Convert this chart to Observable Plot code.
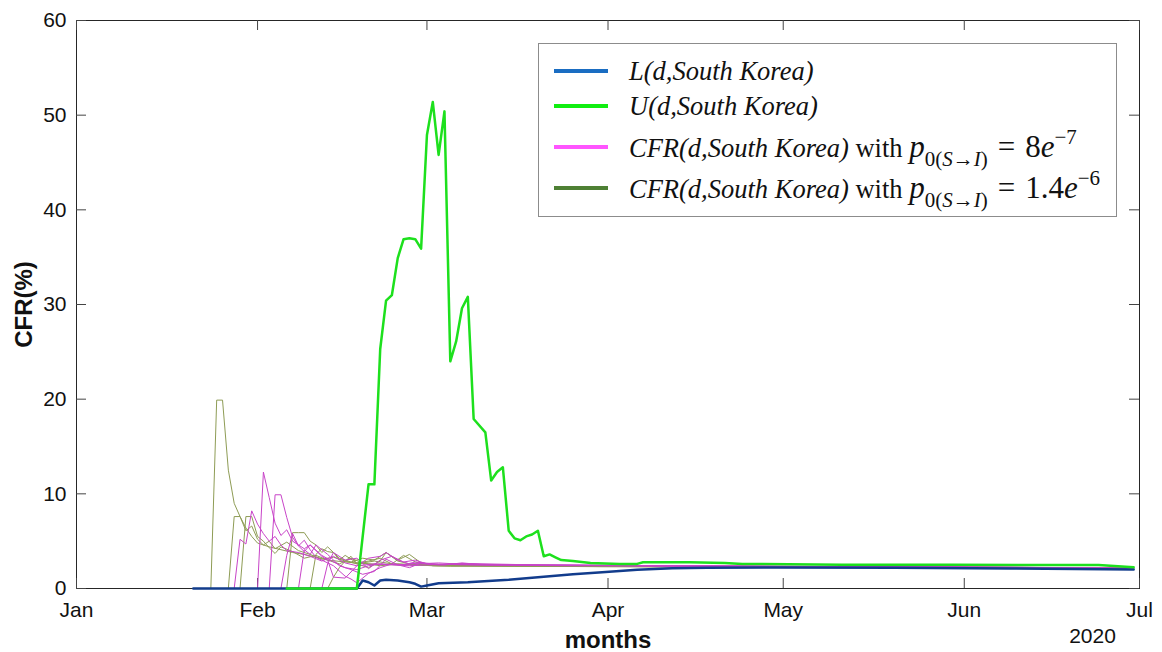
<!DOCTYPE html>
<html><head><meta charset="utf-8">
<script src="https://cdn.jsdelivr.net/npm/d3@7"></script>
<script src="https://cdn.jsdelivr.net/npm/@observablehq/plot@0.6"></script>
<style>
body{margin:0;background:#fff;}
#wrap{position:relative;width:1162px;height:652px;}
#legend{position:absolute;left:538px;top:43px;width:577px;height:172px;border:1px solid #8c8c8c;background:#fff;font-family:"Liberation Serif","Times New Roman",serif;font-size:26.5px;color:#111;}
.sw{position:absolute;left:15px;width:54px;height:4px;}
.lab{position:absolute;left:90px;height:34px;line-height:34px;white-space:nowrap;}
.m{font-size:31px;}
.m sub{font-size:21px;vertical-align:-9px;line-height:0;}
.m sup{font-size:21px;vertical-align:13px;line-height:0;}
.eq{margin:0 10px;}
</style>
</head><body>
<div id="wrap">
<div id="chart"></div>
<div id="legend">
  <div class="sw" style="top:25px;background:#1a6dc2"></div>
  <div class="lab" style="top:10px"><i>L(d,South Korea)</i></div>
  <div class="sw" style="top:60px;background:#11ee11"></div>
  <div class="lab" style="top:45px"><i>U(d,South Korea)</i></div>
  <div class="sw" style="top:101px;background:#ff55ff"></div>
  <div class="lab" style="top:86px"><i>CFR(d,South Korea)</i> with <span class="m"><i>p</i><sub>0(<i>S</i>→<i>I</i>)</sub><span class="eq">=</span>8<i>e</i><sup>−7</sup></span></div>
  <div class="sw" style="top:142px;background:#4e8034"></div>
  <div class="lab" style="top:127px"><i>CFR(d,South Korea)</i> with <span class="m"><i>p</i><sub>0(<i>S</i>→<i>I</i>)</sub><span class="eq">=</span>1.4<i>e</i><sup>−6</sup></span></div>
</div>
</div>
<script>
// day index counted from 2020-01-01 (day 0)
const monthTickLabels = ["Jan","Feb","Mar","Apr","May","Jun","Jul"];
const monthTickDays = [0,31,60,91,121,152,182];
const yTicks = [0,10,20,30,40,50,60];

const lowerDays = [20,48,49,50,51,52,53,55,57,58,59,60,62,67,74,79,85,90,96,102,108,120,140,160,181];
const lowerVals = [0,0,0.84,0.66,0.32,0.84,0.92,0.84,0.66,0.5,0.2,0.32,0.55,0.66,0.92,1.19,1.5,1.72,1.97,2.14,2.18,2.22,2.2,2.12,2.0];

const upperDays = [36,48,50,51,52,53,54,55,56,57,58,59,60,61,62,63,64,65,66,67,68,70,71,72,73,74,75,76,77,78,79,80,81,82,83,85,88,93,96,97,105,111,114,131,150,175,181];
const upperVals = [0,0,11,11,25.3,30.4,31.0,34.9,36.9,37.0,36.9,35.9,47.9,51.4,45.8,50.4,24.0,26.1,29.6,30.8,17.9,16.5,11.4,12.3,12.8,6.1,5.3,5.1,5.5,5.7,6.1,3.4,3.6,3.3,3.0,2.9,2.7,2.6,2.6,2.78,2.78,2.7,2.6,2.5,2.5,2.48,2.25];

// CFR runs with p0 = 8e-7 (magenta)
const pinkA_days = [27,28,29,30,31,32,33,34,35,36,38,40,42,44,46,48,51,54,57,60,66,80,100,130,160,181];
const pinkA_vals = [0,5.2,4.7,8.2,6.8,5.8,5.0,5.5,4.6,4.0,3.8,3.4,2.9,3.4,2.7,2.4,2.6,2.5,2.4,2.5,2.55,2.45,2.4,2.3,2.25,2.1];
const pinkB_days = [31,32,33,34,35,36,37,38,39,40,42,44,46,48,50,52,55,58,62,68,90,120,150,181];
const pinkB_vals = [0,12.3,9.6,6.9,5.6,6.2,5.0,4.6,4.2,4.6,3.5,2.8,2.2,2.0,2.4,2.6,2.5,2.6,2.7,2.5,2.45,2.35,2.3,2.15];
const pinkC_days = [33,34,35,36,37,38,39,40,41,42,44,46,47,48,50,52,54,56,58,61,66,85,115,145,181];
const pinkC_vals = [0,9.9,9.9,7.5,5.4,4.5,5.1,4.1,3.3,3.0,2.4,1.3,1.0,0.6,1.6,2.2,2.6,2.5,2.8,2.6,2.5,2.4,2.35,2.3,2.15];
const pinkD_days = [35,36,37,38,39,40,42,43,44,46,48,50,52,53,55,57,59,62,64,75,105,135,181];
const pinkD_vals = [0,3.5,5.8,4.5,3.9,4.6,3.4,3.0,1.2,1.1,2.4,3.2,3.4,3.8,3.0,2.6,2.7,2.5,2.6,2.5,2.35,2.3,2.1];
const pinkE_days = [38,39,40,41,43,45,47,49,51,53,55,57,59,61,63,66,78,110,150,181];
const pinkE_vals = [0,4.1,3.6,4.6,3.6,2.4,2.0,1.5,1.8,3.1,2.5,2.2,2.7,2.55,2.5,2.65,2.5,2.35,2.25,2.1];
const pinkF_days = [42,43,44,46,48,50,52,54,56,58,60,63,66,70,90,120,181];
const pinkF_vals = [0,2.6,3.8,3.0,3.2,2.1,3.0,3.4,2.8,3.0,2.6,2.5,2.7,2.5,2.45,2.35,2.1];

// CFR runs with p0 = 1.4e-6 (olive)
const oliveA_days = [23,24,25,26,27,28,29,30,31,33,35,37,39,41,43,46,50,55,60,70,90,120,150,181];
const oliveA_vals = [0,19.9,19.9,12.5,9.0,7.6,6.4,5.5,4.8,4.4,4.1,3.8,3.6,3.3,3.0,2.8,2.6,2.5,2.45,2.4,2.35,2.3,2.25,2.15];
const oliveB_days = [26,27,28,29,30,31,32,33,34,36,38,40,42,44,46,48,51,54,58,62,75,100,130,160,181];
const oliveB_vals = [0,7.6,7.6,6.1,6.6,5.2,4.6,5.0,4.2,4.9,4.0,3.6,3.1,3.3,2.9,2.6,2.9,2.6,2.5,2.4,2.35,2.3,2.25,2.2,2.1];
const oliveC_days = [28,29,30,31,32,33,34,35,37,39,41,43,45,47,49,52,55,58,61,70,95,125,155,181];
const oliveC_vals = [0,7.6,7.6,5.5,5.0,4.3,3.7,4.4,3.9,3.2,3.5,3.0,2.6,3.2,2.7,2.4,2.6,2.5,2.4,2.45,2.4,2.3,2.25,2.15];
const oliveD_days = [36,37,38,39,40,41,42,43,44,45,47,49,51,53,55,57,60,65,80,110,140,181];
const oliveD_vals = [0,5.9,5.9,5.9,5.0,4.6,3.8,4.4,3.8,3.2,2.8,3.2,3.0,3.8,2.9,2.6,2.5,2.4,2.35,2.3,2.25,2.15];
const oliveE_days = [40,41,42,43,44,45,46,48,50,52,54,56,58,60,63,70,90,120,181];
const oliveE_vals = [0,3.6,4.2,3.9,3.8,3.0,3.5,2.7,2.9,3.2,2.6,3.5,2.8,2.5,2.45,2.4,2.3,2.3,2.15];
const oliveF_days = [43,44,45,46,47,48,50,52,53,55,57,59,61,64,72,100,140,181];
const oliveF_vals = [0,1.2,2.2,2.9,3.4,2.6,2.2,2.9,3.8,3.0,3.6,2.7,2.4,2.35,2.4,2.3,2.25,2.1];

const toDate = d => new Date(Date.UTC(2020, 0, 1 + d));
function rows(days, vals, key) { return days.map((d, i) => ({date: toDate(d), v: vals[i], key})); }

const lowerRows = rows(lowerDays, lowerVals, "L");
const upperRows = rows(upperDays, upperVals, "U");
const pinkRows = [
  rows(pinkA_days, pinkA_vals, "pA"), rows(pinkB_days, pinkB_vals, "pB"), rows(pinkC_days, pinkC_vals, "pC"),
  rows(pinkD_days, pinkD_vals, "pD"), rows(pinkE_days, pinkE_vals, "pE"), rows(pinkF_days, pinkF_vals, "pF")
].flat();
const oliveRows = [
  rows(oliveA_days, oliveA_vals, "oA"), rows(oliveB_days, oliveB_vals, "oB"), rows(oliveC_days, oliveC_vals, "oC"),
  rows(oliveD_days, oliveD_vals, "oD"), rows(oliveE_days, oliveE_vals, "oE"), rows(oliveF_days, oliveF_vals, "oF")
].flat();

const monthTicks = monthTickDays.map(toDate);
const labelOf = new Map(monthTicks.map((d, i) => [+d, monthTickLabels[i]]));

const W = 1162, H = 652, mL = 76, mR = 23, mT = 20, mB = 64;
const iw = W - mL - mR, ih = H - mT - mB, tk = 10;

const chart = Plot.plot({
  width: W, height: H,
  marginLeft: mL, marginRight: mR, marginTop: mT, marginBottom: mB,
  style: {fontFamily: "'Liberation Sans', Arial, sans-serif", fontSize: "21px", color: "#111", background: "#fff"},
  x: {type: "utc", domain: [toDate(0), toDate(182)]},
  y: {domain: [0, 60]},
  marks: [
    Plot.frame({stroke: "#262626"}),
    Plot.tickX(monthTicks, {x: d => d, insetTop: ih - tk, stroke: "#444"}),
    Plot.tickX(monthTicks, {x: d => d, insetBottom: ih - tk, stroke: "#444"}),
    Plot.tickY(yTicks, {y: d => d, insetRight: iw - tk, stroke: "#444"}),
    Plot.tickY(yTicks, {y: d => d, insetLeft: iw - tk, stroke: "#444"}),
    Plot.line(oliveRows, {x: "date", y: "v", z: "key", stroke: "#8e9c55", strokeWidth: 1}),
    Plot.line(pinkRows, {x: "date", y: "v", z: "key", stroke: "#c844c8", strokeWidth: 1}),
    Plot.line(lowerRows, {x: "date", y: "v", stroke: "#123c8c", strokeWidth: 2.5}),
    Plot.line(upperRows, {x: "date", y: "v", stroke: "#1de01d", strokeWidth: 2.5}),
    Plot.axisX({ticks: monthTicks, tickFormat: d => labelOf.get(+d), tickSize: 0, tickPadding: 14, label: null}),
    Plot.axisY({ticks: yTicks, tickSize: 0, tickPadding: 10, label: null}),
    Plot.text(["CFR(%)"], {frameAnchor: "left", dx: -52, rotate: -90, textAnchor: "middle", fontWeight: "bold", fontSize: 24, fill: "#111"}),
    Plot.text(["months"], {frameAnchor: "bottom", dy: 52, textAnchor: "middle", lineAnchor: "middle", fontWeight: "bold", fontSize: 24, fill: "#111"}),
    Plot.text(["2020"], {frameAnchor: "bottom-right", dx: -47, dy: 48, textAnchor: "middle", lineAnchor: "middle", fontSize: 21, fill: "#111"})
  ]
});
document.getElementById("chart").appendChild(chart);
</script>
</body></html>
